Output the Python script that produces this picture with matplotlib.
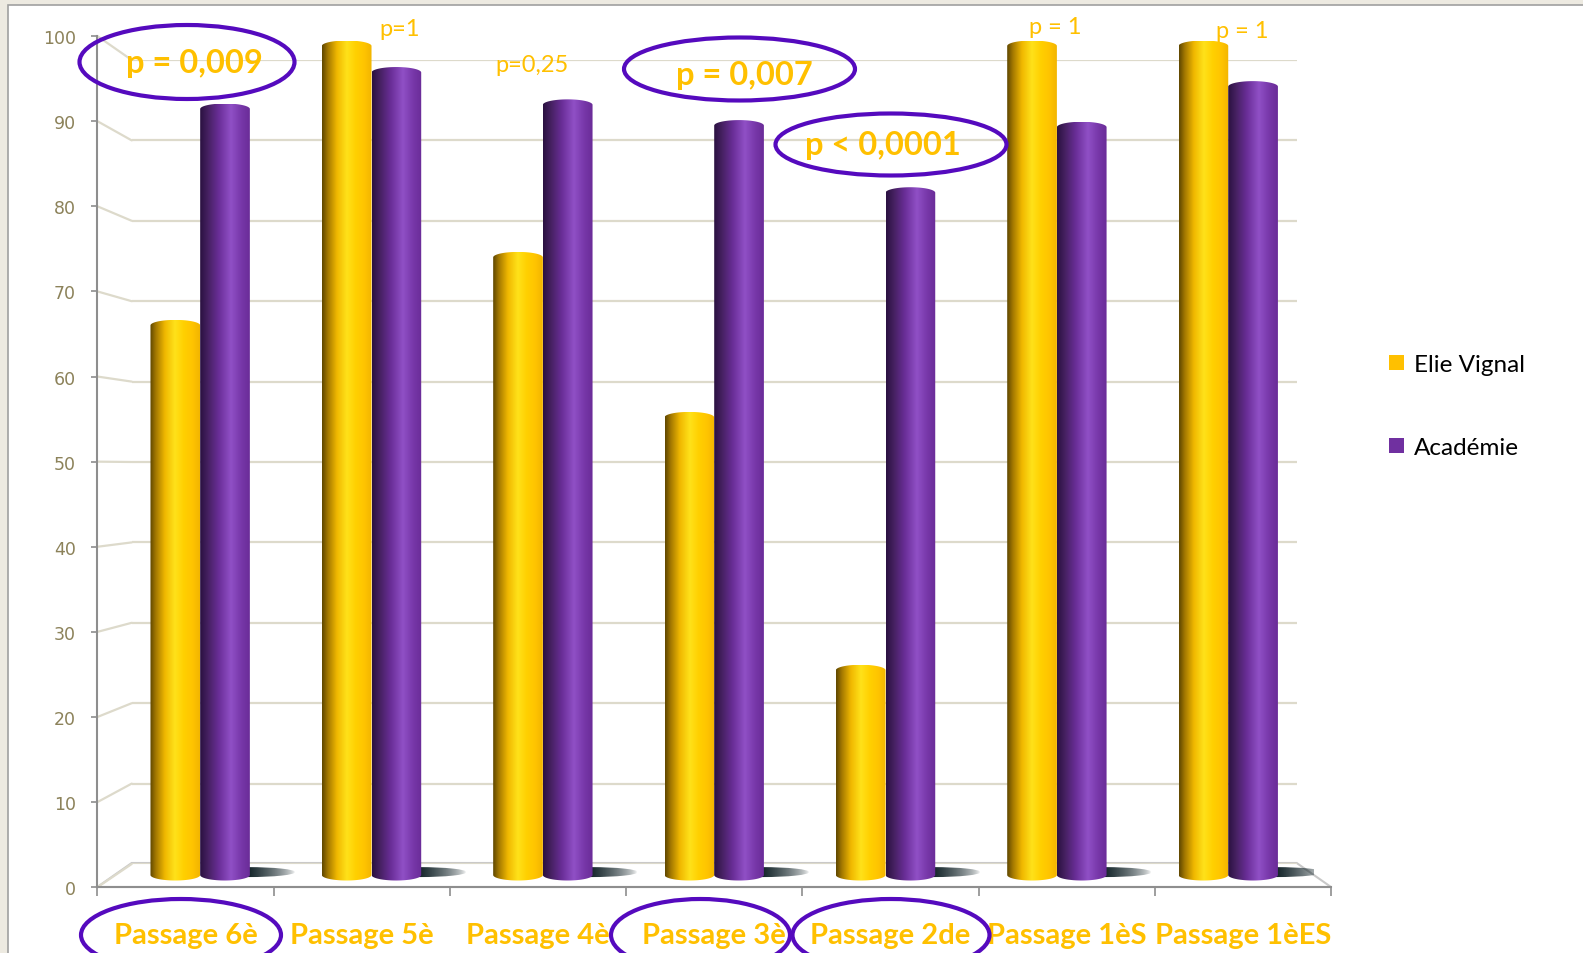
import numpy as np
import matplotlib
matplotlib.use('Agg')
import matplotlib.pyplot as plt
from matplotlib.colors import LinearSegmentedColormap
from matplotlib.patches import PathPatch, Ellipse, Rectangle, Polygon, Patch, ConnectionPatch
from matplotlib.path import Path

# données
categories = ['Passage 6è', 'Passage 5è', 'Passage 4è', 'Passage 3è',
              'Passage 2de', 'Passage 1èS', 'Passage 1èES']
elie = [66.3, 100, 74.5, 55.2, 24.7, 100, 100]
academie = [92.4, 96.8, 92.9, 90.4, 82.3, 90.2, 95.1]
series = ['Elie Vignal', 'Académie']
yticks = list(range(0, 101, 10))
p_values = ['p = 0,009', 'p=1', 'p=0,25', 'p = 0,007', 'p < 0,0001', 'p = 1', 'p = 1']
p_significant = [True, False, False, True, True, False, False]
circled_cats = [0, 3, 4]

# mise en page (pixels de l'image)
W, H = 1583, 954
p_pos = [(194, 64), (400, 29), (532, 65), (744, 75), (883, 145), (1055, 28), (1242, 32)]
p_ell = {0: (187, 63, 215, 74), 3: (739.5, 70, 231, 63), 4: (891, 145.5, 231, 62)}
cat_ell = {0: (181, 936, 200, 72), 3: (700.5, 936, 179, 72), 4: (891, 936, 197, 72)}

GOLD = '#FFC000'
PURPLE = '#7030A0'
RING = '#550ABE'
GRID = '#DDDACB'
TICK = '#8C825A'

gold_cm = LinearSegmentedColormap.from_list('gold', [
    (0, '#5E4600'), (0.12, '#A57A00'), (0.3, '#F0B800'), (0.5, '#FFE21A'),
    (0.68, '#FFD000'), (0.85, '#FFC400'), (1, '#F2B500')])
purple_cm = LinearSegmentedColormap.from_list('purple', [
    (0, '#2A1040'), (0.15, '#44205F'), (0.38, '#6A2E98'), (0.62, '#9050C6'),
    (0.82, '#7838AA'), (1, '#6A2C98')])

fig = plt.figure(figsize=(15.83, 9.54), dpi=100, facecolor='#EDEAE1')


def px_axes(x0, x1, y_bot, y_top, **kw):
    return fig.add_axes([x0 / W, 1 - y_bot / H, (x1 - x0) / W, (y_bot - y_top) / H], **kw)


def full_axes(z):
    a = fig.add_axes([0, 0, 1, 1], zorder=z)
    a.set_xlim(0, W)
    a.set_ylim(H, 0)
    a.axis('off')
    a.patch.set_alpha(0)
    return a


# fond + plancher
axbg = full_axes(-10)
axbg.add_patch(Rectangle((8, 6), W, H, fc='white', ec='#A0A0A0', lw=1.2))
axbg.add_patch(Polygon([(97.3, 888), (1331, 888), (1296.7, 864), (131.7, 864)],
                       closed=True, fc='white', ec='#C8C8C8', lw=1.5))

# paroi du fond (grille)
axw = px_axes(131.7, 1296.7, 865, 61, zorder=-5)
axw.set_ylim(0, 100)
axw.axis('off')
axw.patch.set_alpha(0)
for v in yticks:
    axw.axhline(v, color=GRID, lw=1.6)

# axe avant
axf = px_axes(97.3, 1331, 888.3, 37, zorder=-4)
axf.patch.set_alpha(0)
axf.set_ylim(0, 100)
axf.set_xlim(0, len(categories))
for s in ['top', 'right']:
    axf.spines[s].set_visible(False)
for s in ['left', 'bottom']:
    axf.spines[s].set_color('#8E8E8E')
    axf.spines[s].set_linewidth(1.5)
axf.set_yticks(yticks)
axf.tick_params(axis='y', length=4.5, width=1.2, color='#8E8E8E', pad=11,
                labelsize=12.5, labelcolor=TICK)
axf.set_xticks(range(len(categories) + 1))
axf.set_xticklabels([])
axf.set_xticks(np.arange(len(categories)) + 0.5, minor=True)
axf.set_xticklabels(categories, minor=True, fontfamily='Lato', fontweight='bold',
                    fontsize=21, color=GOLD)
axf.tick_params(axis='x', which='major', length=6.5, width=1.2, color='#8E8E8E')
axf.tick_params(axis='x', which='minor', length=0, pad=25)

for v in yticks:
    con = ConnectionPatch(xyA=(0, v), coordsA=axf.get_yaxis_transform(),
                          xyB=(0, v), coordsB=axw.get_yaxis_transform(),
                          color=GRID, lw=1.6, zorder=-4.5)
    fig.add_artist(con)

# cylindres
k = (876 - 47) / 100.0
lo, hi = -4, 104
axb = px_axes(114.5, 1313.9, 876 - lo * k, 47 - (hi - 100) * k, zorder=0)
axb.axis('off')
axb.patch.set_alpha(0)

grad = np.linspace(0, 1, 256).reshape(1, -1)
cap = 5.5 / k
bw = 0.29


def cylinder(ax, xc, width, value, cmap, z):
    t = np.linspace(0, np.pi, 60)
    top = np.column_stack([xc + width / 2 * np.cos(t), value + cap * np.sin(t)])
    bot = np.column_stack([xc - width / 2 * np.cos(t), -cap * np.sin(t)])
    verts = np.vstack([top, bot, top[:1]])
    clip = PathPatch(Path(verts), transform=ax.transData, fc='none', ec='none')
    ax.add_patch(clip)
    im = ax.imshow(grad, cmap=cmap, aspect='auto', interpolation='bicubic', zorder=z,
                   extent=(xc - width / 2, xc + width / 2, -cap, value + cap))
    im.set_clip_path(clip)


def shadow(ax, x0, z):
    rgba = np.zeros((1, 256, 4))
    rgba[..., 0], rgba[..., 1], rgba[..., 2] = 0.03, 0.1, 0.12
    rgba[..., 3] = np.linspace(1, 0, 256) ** 0.6
    clip = Ellipse((x0, 0.35), 0.55, 1.2, transform=ax.transData, fc='none', ec='none')
    ax.add_patch(clip)
    im = ax.imshow(rgba, aspect='auto', interpolation='bicubic', zorder=z,
                   extent=(x0 - 0.02, x0 + 0.27, -0.4, 1.0))
    im.set_clip_path(clip)


x = np.arange(len(categories))
for i in x:
    shadow(axb, i + bw - 0.01, 1)
    cylinder(axb, i - bw / 2, bw, elie[i], gold_cm, 2)
    cylinder(axb, i + bw / 2, bw, academie[i], purple_cm, 3)
axb.set_xlim(-0.5, len(categories) - 0.5)
axb.set_ylim(lo, hi)

# légende
handles = [Patch(fc=GOLD, ec='none'), Patch(fc=PURPLE, ec='none')]
axb.legend(handles, series, loc='center left', bbox_to_anchor=(1389 / W, 1 - 407 / H),
           bbox_transform=fig.transFigure, frameon=False, borderaxespad=0, borderpad=0,
           prop={'family': 'Lato', 'size': 17.5}, handlelength=0.62, handleheight=0.62,
           handletextpad=0.4, labelspacing=2.55)

# annotations p
axp = full_axes(5)
for i, (txt, sig) in enumerate(zip(p_values, p_significant)):
    px, py = p_pos[i]
    axp.text(px, py, txt, ha='center', va='center', color=GOLD, fontfamily='Lato',
             fontweight='bold' if sig else 'normal', fontsize=23.5 if sig else 17)
for cx, cy, w, h in p_ell.values():
    axp.add_patch(Ellipse((cx, cy), w, h, fill=False, ec=RING, lw=3, clip_on=False))
for c in circled_cats:
    cx, cy, w, h = cat_ell[c]
    axp.add_patch(Ellipse((cx, cy), w, h, fill=False, ec=RING, lw=3, clip_on=False))

fig.savefig('out.png', dpi=100, facecolor=fig.get_facecolor())
